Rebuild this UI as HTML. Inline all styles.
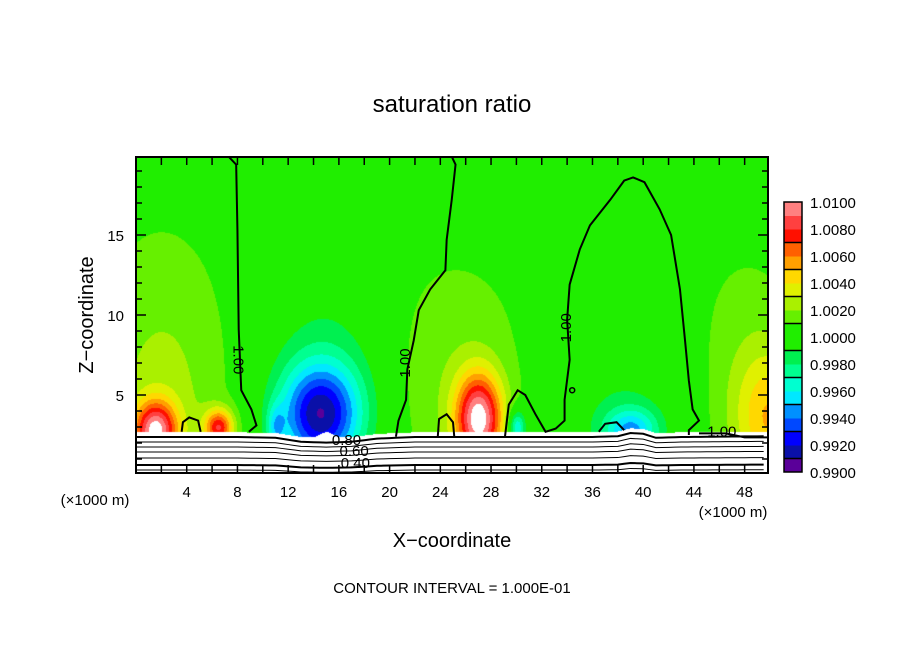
<!DOCTYPE html>
<html><head><meta charset="utf-8"><style>
body{margin:0;background:#fff;width:904px;height:654px;overflow:hidden;position:relative;font-family:"Liberation Sans",sans-serif}
#fld{position:absolute;left:136px;top:157px}
svg{position:absolute;left:0;top:0}
text{font-family:"Liberation Sans",sans-serif;fill:#000}
</style></head><body>
<canvas id="fld" width="632" height="316"></canvas>
<svg id="s" width="904" height="654">
<text x="452" y="112" font-size="24" text-anchor="middle">saturation ratio</text>
<text x="452" y="547" font-size="20" text-anchor="middle">X−coordinate</text>
<text transform="translate(93,315) rotate(-90)" font-size="20" text-anchor="middle">Z−coordinate</text>
<text x="95" y="505" font-size="15" text-anchor="middle">(×1000 m)</text>
<text x="733" y="517" font-size="15" text-anchor="middle">(×1000 m)</text>
<text x="452" y="593" font-size="15" text-anchor="middle">CONTOUR INTERVAL = 1.000E-01</text>
<g id="g"></g>
</svg>
<script>
// ---- data ----
const bgValue = 1.0005;
const blobX  = [2, 1.5, 6.5, 15, 14.5, 11, 25, 27, 30, 38, 39, 50, 48, 2];
const blobZ  = [4, 2.8, 3.0, 6, 3.8, 3, 6, 3.5, 3, 5, 2.8, 3.5, 7, 7];
const blobSX = [3, 1.2, 0.8, 3.5, 2.2, 0.5, 4, 1.3, 0.5, 4, 1.5, 2, 3, 4];
const blobSZ = [5, 1.3, 0.8, 5, 2.2, 1, 5, 2, 0.8, 4, 1.0, 3, 5, 7];
const blobA  = [0.0012, 0.0085, 0.007, -0.0018, -0.008, -0.003, 0.0013, 0.0095, -0.005, -0.0013, -0.005, 0.004, 0.001, 0.0008];
const bandColors = ["#5a0099","#0a10a8","#0000ff","#0048ff","#0090ff","#00e8ff","#00ffd0","#00ff90","#00f050","#20ee00","#20ee00","#66f000","#aaf000","#e0f000","#ffd800","#ffa000","#ff6000","#ff1000","#ff4040","#ff8080"];
const cbLabels = ["1.0100","1.0080","1.0060","1.0040","1.0020","1.0000","0.9980","0.9960","0.9940","0.9920","0.9900"];
const xTickLabels = [4,8,12,16,20,24,28,32,36,40,44,48];
const yTickLabels = [5,10,15];
// 1.00 contours [x km, z km]
const contourA = [[7.3,19.9],[7.9,19.4],[8.0,15.3],[8.1,9.1],[8.3,5.3],[9.1,4.1],[9.5,3.1],[8.9,2.7]];
const contourB = [[24.9,19.9],[25.2,19.4],[24.9,17.2],[24.5,14.7],[24.4,12.8],[23.2,11.6],[22.3,10.3],[21.9,8.4],[21.4,6.6],[21.3,4.7],[20.7,3.4],[20.5,2.4]];
const contourC = [[29.1,2.4],[29.4,4.4],[30.1,5.3],[30.7,5.0],[31.5,3.8],[32.3,2.7],[33.1,2.9],[33.8,3.4],[33.8,4.7],[34.2,7.2],[34.0,9.7],[34.2,11.9],[35.0,14.1],[35.8,15.6],[37.4,17.2],[38.5,18.4],[39.2,18.6],[40.1,18.3],[41.3,16.6],[42.2,15.0],[42.9,11.6],[43.3,8.4],[43.6,5.9],[43.9,4.1],[44.4,3.4],[43.6,2.8],[43.6,2.5]];
const contourD = [[44.4,2.6],[46.5,2.6],[48,2.35],[49.84,2.35]];
const loopE = [[3.6,2.7],[3.7,3.3],[4.2,3.6],[4.9,3.4],[5.1,2.7]];
const loopF = [[23.8,2.4],[23.9,3.5],[24.5,3.8],[25.0,3.3],[25.1,2.4]];
const loopG = [[36.5,2.7],[37.0,3.2],[37.9,3.3],[38.5,2.8]];
const terrX = [0,8,11,13,15,17,19,22,36,38,39,40,41,43,50];
const terrDZ = [0,0,-0.05,-0.3,-0.35,-0.3,-0.1,0,0,0.05,0.25,0.2,-0.05,0,0.05];
const terrLevels = [2.375,2.06,1.75,1.44,1.06,0.625,0.31];
const terrLabels = [["0.80",16.6,2.2],["0.60",17.2,1.5],["0.40",17.3,0.75]];
// ---- axes ----
const L=136,T=157,R=768,B=473,PX=12.68,PZ=16;
const X=k=>L+k*PX, Z=z=>475-z*PZ;
function terr(x){for(let i=1;i<terrX.length;i++){if(x<=terrX[i]){const t=(x-terrX[i-1])/(terrX[i]-terrX[i-1]);return terrDZ[i-1]+t*(terrDZ[i]-terrDZ[i-1]);}}return 0;}
// field
const cv=document.getElementById('fld').getContext('2d');
const img=cv.createImageData(632,316);
const rgb=bandColors.map(h=>[parseInt(h.substr(1,2),16),parseInt(h.substr(3,2),16),parseInt(h.substr(5,2),16)]);
for(let py=0;py<316;py++){const z=(475-(py+T))/PZ;for(let px=0;px<632;px++){const x=px/PX;let v=bgValue;
for(let i=0;i<blobX.length;i++){const dx=(x-blobX[i])/blobSX[i],dz=(z-blobZ[i])/blobSZ[i];v+=blobA[i]*Math.exp(-0.5*(dx*dx+dz*dz));}
let c;const top=2.7+terr(x)+((x>14&&x<16)?0.4*(1-Math.abs(x-15)):0);
if(z<top||v>=1.01)c=[255,255,255];else{let b=Math.floor((v-0.99)/0.001);b=Math.max(0,Math.min(19,b));c=rgb[b];}
const o=(py*632+px)*4;img.data[o]=c[0];img.data[o+1]=c[1];img.data[o+2]=c[2];img.data[o+3]=255;}}
cv.putImageData(img,0,0);
const g=document.getElementById('g');const NS='http://www.w3.org/2000/svg';
function mk(t,a){const e=document.createElementNS(NS,t);for(const k in a)e.setAttribute(k,a[k]);g.appendChild(e);return e;}
function pl(arr,w,name){const e=mk('polyline',{points:arr.map(p=>X(p[0])+','+Z(p[1])).join(' '),fill:'none',stroke:'#000','stroke-width':w});

}
// terrain lines
terrLevels.forEach((lv,i)=>{const pts=[];for(let x=0;x<=49.84;x+=0.5)pts.push([x,lv+terr(x)*(1-i*0.1)]);pl(pts,(i==0||i==5)?2:1,'terrain-contour');});
terrLabels.forEach(t=>{const e=mk('text',{x:X(t[1]),y:Z(t[2])+5,'font-size':15,'text-anchor':'middle'});e.textContent=t[0];

});
[contourA,contourB,contourC,contourD,loopE,loopF,loopG].forEach(c=>pl(c,2,'contour-1-00'));
mk('circle',{cx:X(34.4),cy:Z(5.3),r:2.5,fill:'none',stroke:'#000','stroke-width':1.5});
[[8.1,7.2,90],[21.2,7.0,-90],[33.9,9.2,-90]].forEach(p=>{const e=mk('text',{transform:`translate(${X(p[0])},${Z(p[1])}) rotate(${p[2]})`,'font-size':15,'text-anchor':'middle',dy:5});e.textContent='1.00';

});
{const e=mk('text',{x:X(46.2),y:Z(2.6)+3,'font-size':15,'text-anchor':'middle'});e.textContent='1.00';

}
// frame & ticks
{const e=mk('rect',{x:L,y:T,width:R-L,height:B-T,fill:'none',stroke:'#000','stroke-width':2});

}
for(let k=2;k<50;k+=2){const x=X(k);mk('line',{x1:x,x2:x,y1:B,y2:B-8,stroke:'#000','stroke-width':1.5});mk('line',{x1:x,x2:x,y1:T,y2:T+8,stroke:'#000','stroke-width':1.5});}
for(let z=1;z<20;z++){const y=Z(z),w=z%5==0?10:6;mk('line',{x1:L,x2:L+w,y1:y,y2:y,stroke:'#000','stroke-width':1.5});mk('line',{x1:R,x2:R-w,y1:y,y2:y,stroke:'#000','stroke-width':1.5});}
xTickLabels.forEach(k=>{const e=mk('text',{x:X(k),y:497,'font-size':15,'text-anchor':'middle'});e.textContent=k;

});
yTickLabels.forEach(z=>{const e=mk('text',{x:124,y:Z(z)+6,'font-size':15,'text-anchor':'end'});e.textContent=z;

});
// colorbar
const cbT=202,cbB=472,cbL=784,cbW=18,bh=(cbB-cbT)/20;
for(let i=0;i<20;i++){const e=mk('rect',{x:cbL,y:cbB-(i+1)*bh,width:cbW,height:bh+0.5,fill:bandColors[i]});

}
for(let i=1;i<10;i++){const y=cbB-i*2*bh+bh;mk('line',{x1:cbL,x2:cbL+cbW,y1:y,y2:y,stroke:'#000','stroke-width':1.5});}
mk('rect',{x:cbL,y:cbT,width:cbW,height:cbB-cbT,fill:'none',stroke:'#000','stroke-width':1.5});
cbLabels.forEach((l,i)=>{const e=mk('text',{x:810,y:cbT+i*(cbB-cbT)/10+6,'font-size':15});e.textContent=l;

});
</script>
</body></html>
